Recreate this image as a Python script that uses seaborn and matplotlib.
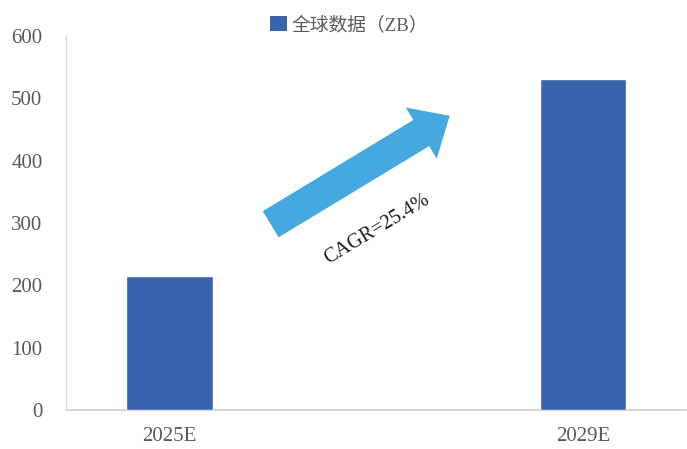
import matplotlib
matplotlib.use("Agg")
import matplotlib.pyplot as plt
from matplotlib.patches import FancyArrowPatch, ArrowStyle, Patch
import seaborn as sns
import pandas as pd

years = ["2025E", "2029E"]
values = [215, 531]
series_name = "全球数据（ZB）"
cagr_label = "CAGR=25.4%"
yticks = [0, 100, 200, 300, 400, 500, 600]

bar_color = "#3A64AE"
arrow_color = "#45A9E0"
text_gray = "#595959"

sns.set_theme(style="white")
plt.rcParams["font.family"] = ["Liberation Serif", "Noto Sans CJK SC", "DejaVu Sans"]

fig = plt.figure(figsize=(6.87, 4.49), dpi=100)
ax = fig.add_axes([66 / 687, 1 - 410 / 449, 1 - 66 / 687 - 0.001, (410 - 36) / 449])

df = pd.DataFrame({"year": years, "value": values})
sns.barplot(data=df, x="year", y="value", color=bar_color, width=0.21,
            saturation=1, ax=ax, zorder=3)

ax.set_xlim(-0.25, 1.25)
ax.set_ylim(0, 600)
ax.set_yticks(yticks)
ax.set_xlabel("")
ax.set_ylabel("")
ax.tick_params(axis="y", length=0, pad=17, labelsize=15, labelcolor=text_gray)
ax.tick_params(axis="x", length=0, pad=12, labelsize=15, labelcolor=text_gray)

for side in ["top", "right"]:
    ax.spines[side].set_visible(False)
ax.spines["left"].set_color("#D9D9D9")
ax.spines["left"].set_linewidth(1.0)
ax.spines["bottom"].set_color("#D0D0D0")
ax.spines["bottom"].set_linewidth(1.2)
ax.spines["bottom"].set_zorder(2)

# growth arrow between the two bars
arrow = FancyArrowPatch(
    (0.245, 298), (0.678, 472),
    arrowstyle=ArrowStyle.Simple(head_length=24, head_width=43, tail_width=22),
    mutation_scale=1, shrinkA=0, shrinkB=0,
    color=arrow_color, lw=0, zorder=4,
)
ax.add_patch(arrow)
ax.text(0.502, 290, cagr_label, rotation=31, ha="center", va="center",
        fontsize=14.5, color="#1a1a1a", zorder=5, rotation_mode="anchor")

handle = Patch(facecolor=bar_color, edgecolor="none")
fig.legend([handle], [series_name], loc="center", bbox_to_anchor=(349 / 687, 1 - 25 / 449),
           frameon=False, handlelength=0.9, handleheight=0.9, handletextpad=0.25,
           prop={"size": 13.5}, labelcolor=text_gray)

fig.savefig("out.png", dpi=100)
